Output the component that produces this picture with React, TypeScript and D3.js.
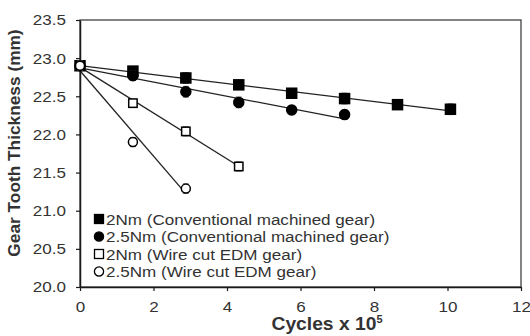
import { useEffect, useRef } from 'react';
import * as d3 from 'd3';

// cycles (x 10^5)
const cycles = [0, 1.44, 2.88, 4.32, 5.76, 7.2, 8.64, 10.08];

// tooth thickness (mm)
const conv2 = [22.9, 22.83, 22.74, 22.65, 22.54, 22.47, 22.39, 22.33];
const conv25 = [22.9, 22.77, 22.56, 22.42, 22.32, 22.26];
const edm2 = [22.9, 22.41, 22.04, 21.58];
const edm25 = [22.9, 21.9, 21.29];

const errConv2 = [0.06, 0.06, 0.07, 0.06, 0.06, 0.07, 0.06, 0.07];
const errConv25 = [0.06, 0.06, 0.07, 0.07, 0.06, 0.06];
const errEdm2 = [0.06, 0.05, 0.06, 0.06];
const errEdm25 = [0.06, 0.06, 0.06];

const legendLabels = [
  '2Nm (Conventional machined gear)',
  '2.5Nm (Conventional machined gear)',
  '2Nm (Wire cut EDM gear)',
  '2.5Nm (Wire cut EDM gear)',
];

const xTicks = [0, 2, 4, 6, 8, 10, 12];
const yTicks = [20.0, 20.5, 21.0, 21.5, 22.0, 22.5, 23.0, 23.5];

const width = 530;
const height = 336;
const margin = { top: 20, right: 9, bottom: 49, left: 80 };
const font = 'Liberation Sans, Arial, sans-serif';
const ink = '#1a1a1a';
const textColor = '#333333';
const stretchK = 1.1; // the original text looks a bit wide

type Series = { values: number[]; errs: number[]; shape: 'square' | 'circle'; filled: boolean };

const series: Series[] = [
  { values: conv2, errs: errConv2, shape: 'square', filled: true },
  { values: conv25, errs: errConv25, shape: 'circle', filled: true },
  { values: edm2, errs: errEdm2, shape: 'square', filled: false },
  { values: edm25, errs: errEdm25, shape: 'circle', filled: false },
];

// widen text horizontally
function stretch(sel: d3.Selection<any, any, any, any>, k = stretchK) {
  sel.each(function () {
    const t = this as SVGTextContentElement;
    const w = t.getComputedTextLength();
    t.setAttribute('textLength', String(w * k));
    t.setAttribute('lengthAdjust', 'spacingAndGlyphs');
  });
}

export default function App() {
  const ref = useRef<SVGSVGElement>(null);

  useEffect(() => {
    const svg = d3.select(ref.current);
    svg.selectAll('*').remove();

    const gw = width - margin.left - margin.right;
    const gh = height - margin.top - margin.bottom;
    const x = d3.scaleLinear().domain([0, 12]).range([0, gw]);
    const y = d3.scaleLinear().domain([20, 23.5]).range([gh, 0]);

    const g = svg.append('g').attr('transform', `translate(${margin.left},${margin.top})`);

    // frame
    g.append('rect')
      .attr('width', gw)
      .attr('height', gh)
      .attr('fill', 'none')
      .attr('stroke', '#333')
      .attr('stroke-width', 1.2);

    // axes
    const xAxis = g
      .append('g')
      .attr('transform', `translate(0,${gh})`)
      .call(d3.axisBottom(x).tickValues(xTicks).tickSize(4).tickSizeOuter(0).tickFormat(d3.format('d')));
    const yAxis = g
      .append('g')
      .call(d3.axisLeft(y).tickValues(yTicks).tickSize(4).tickSizeOuter(0).tickFormat(d3.format('.1f')));
    [xAxis, yAxis].forEach((ax) => {
      ax.select('.domain').attr('stroke', ink).attr('stroke-width', 1.5);
      ax.selectAll('line').attr('stroke', ink).attr('stroke-width', 1.2);
      ax.selectAll('text')
        .attr('font-family', font)
        .attr('font-size', 15.5)
        .attr('fill', textColor);
    });
    xAxis.selectAll('text').attr('y', 25).attr('dy', 0);
    yAxis.selectAll('text').attr('x', -14);
    stretch(xAxis.selectAll('text'));
    stretch(yAxis.selectAll('text'));

    // trend lines (least squares)
    series.forEach((s) => {
      const xs = cycles.slice(0, s.values.length);
      const mx = d3.mean(xs)!;
      const my = d3.mean(s.values)!;
      const sxy = d3.sum(xs, (v, i) => (v - mx) * (s.values[i] - my));
      const sxx = d3.sum(xs, (v) => (v - mx) ** 2);
      const slope = sxy / sxx;
      const icpt = my - slope * mx;
      const x1 = xs[xs.length - 1];
      g.append('line')
        .attr('x1', x(0))
        .attr('y1', y(icpt))
        .attr('x2', x(x1))
        .attr('y2', y(icpt + slope * x1))
        .attr('stroke', '#222')
        .attr('stroke-width', 1.3);
    });

    // error bars + markers
    series.forEach((s) => {
      const pts = s.values.map((v, i) => ({ cx: x(cycles[i]), cy: y(v), e: s.errs[i], v }));
      const eb = g.append('g').attr('stroke', '#555').attr('stroke-width', 1);
      pts.forEach((p) => {
        eb.append('line').attr('x1', p.cx).attr('x2', p.cx).attr('y1', y(p.v + p.e)).attr('y2', y(p.v - p.e));
        eb.append('line').attr('x1', p.cx - 3).attr('x2', p.cx + 3).attr('y1', y(p.v + p.e)).attr('y2', y(p.v + p.e));
        eb.append('line').attr('x1', p.cx - 3).attr('x2', p.cx + 3).attr('y1', y(p.v - p.e)).attr('y2', y(p.v - p.e));
      });
      const mk = g.append('g');
      pts.forEach((p) => {
        if (s.shape === 'square') {
          const h = s.filled ? 5 : 4.2;
          mk.append('rect')
            .attr('x', p.cx - h)
            .attr('y', p.cy - h)
            .attr('width', h * 2)
            .attr('height', h * 2)
            .attr('fill', s.filled ? '#000' : '#fff')
            .attr('stroke', '#000')
            .attr('stroke-width', 1.5);
        } else {
          mk.append('circle')
            .attr('cx', p.cx)
            .attr('cy', p.cy)
            .attr('r', s.filled ? 5 : 4.5)
            .attr('fill', s.filled ? '#000' : '#fff')
            .attr('stroke', '#000')
            .attr('stroke-width', 1.5);
        }
      });
    });

    // legend
    const lg = svg.append('g').attr('transform', 'translate(99,219)');
    legendLabels.forEach((label, i) => {
      const s = series[i];
      const row = lg.append('g').attr('transform', `translate(0,${i * 17.5})`);
      if (s.shape === 'square') {
        row.append('rect')
          .attr('x', -4.5)
          .attr('y', -4.5)
          .attr('width', 9)
          .attr('height', 9)
          .attr('fill', s.filled ? '#000' : '#fff')
          .attr('stroke', '#000')
          .attr('stroke-width', 1.3);
      } else {
        row.append('circle')
          .attr('r', 4.6)
          .attr('fill', s.filled ? '#000' : '#fff')
          .attr('stroke', '#000')
          .attr('stroke-width', 1.3);
      }
      const t = row.append('text')
        .attr('x', 7)
        .attr('y', 5.5)
        .attr('font-family', font)
        .attr('font-size', 15.5)
        .attr('fill', textColor)
        .text(label);
      stretch(t);
    });

    // axis titles
    const xt = svg
      .append('text')
      .attr('x', 327)
      .attr('y', 330)
      .attr('text-anchor', 'middle')
      .attr('font-family', font)
      .attr('font-size', 17.5)
      .attr('font-weight', 'bold')
      .attr('fill', textColor);
    const main = xt.append('tspan').text('Cycles x 10');
    xt.append('tspan').attr('font-size', 11).attr('dy', -7).text('5');
    stretch(main);

    svg
      .append('text')
      .attr('transform', 'translate(20,143) rotate(-90)')
      .attr('text-anchor', 'middle')
      .attr('font-family', font)
      .attr('font-size', 17.3)
      .attr('font-weight', 'bold')
      .attr('fill', textColor)
      .text('Gear Tooth Thickness (mm)');
  }, []);

  return (
    <svg
      ref={ref}
      width={width}
      height={height}
      style={{ position: 'absolute', left: 0, top: 0, background: '#fff' }}
    />
  );
}
